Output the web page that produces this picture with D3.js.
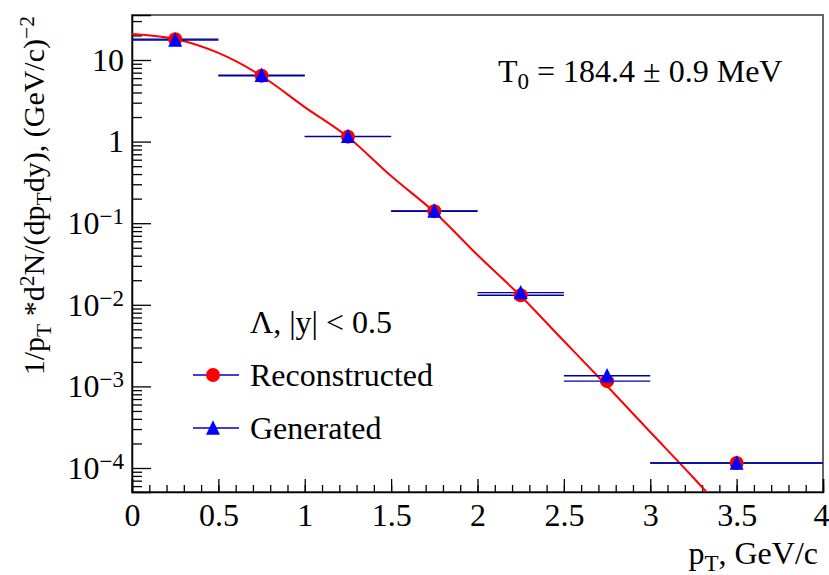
<!DOCTYPE html>
<html>
<head>
<meta charset="utf-8">
<script src="https://cdn.jsdelivr.net/npm/d3@7"></script>
<style>
  body { margin: 0; background: #fff; }
  svg text { font-family: "Liberation Serif", "DejaVu Serif", "Times New Roman", serif !important; fill: #000; }
</style>
</head>
<body>
<script>
'use strict';

// Data
const binCentres = [0.25, 0.75, 1.25, 1.75, 2.25, 2.75, 3.5];
const binLow = [0, 0.5, 1, 1.5, 2, 2.5, 3];
const binHigh = [0.5, 1, 1.5, 2, 2.5, 3, 4];
const reconstructed = [18.0, 6.4, 1.15, 0.140, 0.0131, 1.16e-3, 1.15e-4];
const generated = [17.6, 6.5, 1.16, 0.141, 0.0141, 1.35e-3, 1.15e-4];

// fit curve
const fitPt = [0, 0.25, 0.5, 0.75, 1.0, 1.25, 1.5, 1.75, 2.0, 2.25, 2.5, 2.75, 3.0, 3.25, 3.4];
const fitValue = [20.9, 18.1, 12.2, 6.37, 2.65, 1.14, 0.378, 0.137, 0.0407, 0.0128, 3.6e-3, 1.01e-3, 2.76e-4, 7.6e-5, 3.4e-5];

// Ticks
const xTicks = [0, 0.5, 1, 1.5, 2, 2.5, 3, 3.5, 4];
const xMinor = d3.range(0, 41).map(i => i / 10);
const yTickExp = [-4, -3, -2, -1, 0, 1];
const yMinorMult = [2, 3, 4, 5, 6, 7, 8, 9];

const width = 829, height = 575;
const margin = { left: 132, top: 15, right: 6, bottom: 83 };
const fontSize = 32;
const titleSize = 30;
const serif = '"Liberation Serif", "DejaVu Serif", serif';

const x = d3.scaleLinear().domain([0, 4]).range([margin.left, width - margin.right]);
const y = d3.scaleLog().domain([5.08e-5, 35.6]).range([height - margin.bottom, margin.top]);

const svg = d3.select('body').append('svg')
  .attr('width', width)
  .attr('height', height)
  .attr('viewBox', `0 0 ${width} ${height}`)
  .attr('font-family', serif);

const [x0, x1] = x.range();
const [yb, yt] = y.range();

svg.append('defs').append('clipPath').attr('id', 'plot')
  .append('rect')
  .attr('x', x0).attr('y', yt)
  .attr('width', x1 - x0).attr('height', yb - yt);

// Frame
svg.append('rect')
  .attr('x', x0).attr('y', yt)
  .attr('width', x1 - x0).attr('height', yb - yt)
  .attr('fill', 'none')
  .attr('stroke', '#666')
  .attr('stroke-width', 2);

// Y axis
const yMajor = yTickExp.map(e => Math.pow(10, e));
const yMinor = [];
d3.range(-5, 2).forEach(e => yMinorMult.forEach(m => {
  const v = m * Math.pow(10, e);
  if (v >= y.domain()[0] && v <= y.domain()[1]) yMinor.push(v);
}));

svg.append('g')
  .attr('transform', `translate(${x0},0)`)
  .call(d3.axisLeft(y).tickValues(yMinor).tickSize(-10).tickFormat(''))
  .call(g => g.select('.domain').remove());

const yAxis = svg.append('g')
  .attr('transform', `translate(${x0},0)`)
  .call(d3.axisLeft(y).tickValues(yMajor).tickSize(-19).tickPadding(8).tickFormat(''))
  .attr('font-family', serif);

yAxis.selectAll('.tick text').each(function (d, i) {
  const e = yTickExp[i];
  const t = d3.select(this)
    .attr('font-size', fontSize)
    .attr('dy', '0.32em');
  if (e === 0) t.text('1');
  else if (e === 1) t.text('10');
  else {
    t.append('tspan').text('10');
    t.append('tspan').attr('font-size', fontSize * 0.72).attr('dy', -10).text('\u2212' + (-e));
  }
});

// X axis
svg.append('g')
  .attr('transform', `translate(0,${yb})`)
  .call(d3.axisBottom(x).tickValues(xMinor).tickSize(-7).tickFormat(''))
  .call(g => g.select('.domain').remove());

svg.append('g')
  .attr('transform', `translate(0,${yb})`)
  .call(d3.axisBottom(x).tickValues(xTicks).tickSize(-13).tickPadding(11).tickFormat(d3.format('')))
  .attr('font-family', serif)
  .call(g => g.selectAll('.tick text').attr('font-size', fontSize))
  // last label sits on the page edge; keep it inside
  .call(g => g.selectAll('.tick text').filter(d => d === 4).attr('text-anchor', 'end').attr('x', 6));

svg.selectAll('.domain').attr('stroke', '#000').attr('stroke-width', 1.5);
svg.selectAll('.tick line').attr('stroke', '#000').attr('stroke-width', 1.3);

// Fit curve
const fitLine = d3.line()
  .x(d => x(d[0]))
  .y(d => y(d[1]))
  .curve(d3.curveMonotoneX);

svg.append('path')
  .datum(d3.zip(fitPt, fitValue))
  .attr('clip-path', 'url(#plot)')
  .attr('fill', 'none')
  .attr('stroke', '#ff0000')
  .attr('stroke-width', 2)
  .attr('d', fitLine);

// Error bars (bin widths)
const barColour = '#0000a0';
const drawBars = (values) => {
  svg.append('g').selectAll('line')
    .data(values)
    .enter().append('line')
    .attr('x1', (_d, i) => x(binLow[i]))
    .attr('x2', (_d, i) => x(binHigh[i]))
    .attr('y1', d => y(d))
    .attr('y2', d => y(d))
    .attr('stroke', barColour)
    .attr('stroke-width', 1.4);
};
drawBars(reconstructed);
drawBars(generated);

const triangle = 'M0,-7.7L7,6.7L-7,6.7Z';

svg.append('g').selectAll('circle')
  .data(reconstructed)
  .enter().append('circle')
  .attr('cx', (_d, i) => x(binCentres[i]))
  .attr('cy', d => y(d))
  .attr('r', 7)
  .attr('fill', '#ff0000');

svg.append('g').selectAll('path')
  .data(generated)
  .enter().append('path')
  .attr('transform', (d, i) => `translate(${x(binCentres[i])},${y(d)})`)
  .attr('d', triangle)
  .attr('fill', '#0000ff');

// Axis titles
const xTitle = svg.append('text')
  .attr('x', 818)
  .attr('y', 564)
  .attr('text-anchor', 'end')
  .attr('font-size', fontSize);
xTitle.append('tspan').text('p');
xTitle.append('tspan').attr('font-size', fontSize * 0.72).attr('dy', 7).text('T');
xTitle.append('tspan').attr('dy', -7).text(', GeV/c');

const yTitle = svg.append('text')
  .attr('transform', 'translate(44,16) rotate(-90)')
  .attr('text-anchor', 'end')
  .attr('font-size', titleSize);
yTitle.append('tspan').text('1/p');
yTitle.append('tspan').attr('font-size', titleSize * 0.72).attr('dy', 7).text('T');
yTitle.append('tspan').attr('dy', -7).text(' *d');
yTitle.append('tspan').attr('font-size', titleSize * 0.72).attr('dy', -10).text('2');
yTitle.append('tspan').attr('dy', 10).text('N/(dp');
yTitle.append('tspan').attr('font-size', titleSize * 0.72).attr('dy', 7).text('T');
yTitle.append('tspan').attr('dy', -7).text('dy), (GeV/c)');
yTitle.append('tspan').attr('font-size', titleSize * 0.72).attr('dy', -10).text('\u22122');

// Fit result
const fitText = svg.append('text')
  .attr('x', 498)
  .attr('y', 82)
  .attr('font-size', fontSize);
fitText.append('tspan').text('T');
fitText.append('tspan').attr('font-size', fontSize * 0.72).attr('dy', 7).text('0');
fitText.append('tspan').attr('dy', -7).text(' = 184.4 \u00b1 0.9 MeV');

// Legend
const legend = svg.append('g');
legend.append('text')
  .attr('x', 250).attr('y', 333)
  .attr('font-size', fontSize)
  .text('\u039b, |y| < 0.5');

const legendRows = [
  { label: 'Reconstructed', y: 375, marker: 'circle' },
  { label: 'Generated', y: 428, marker: 'triangle' }
];

legendRows.forEach(row => {
  legend.append('line')
    .attr('x1', 193).attr('x2', 239)
    .attr('y1', row.y).attr('y2', row.y)
    .attr('stroke', '#0000cc')
    .attr('stroke-width', 1.3);
  if (row.marker === 'circle') {
    legend.append('circle').attr('cx', 213).attr('cy', row.y).attr('r', 7).attr('fill', '#ff0000');
  } else {
    legend.append('path').attr('transform', `translate(213,${row.y})`).attr('d', triangle).attr('fill', '#0000ff');
  }
  legend.append('text')
    .attr('x', 250).attr('y', row.y + 11)
    .attr('font-size', fontSize)
    .text(row.label);
});
</script>
</body>
</html>
